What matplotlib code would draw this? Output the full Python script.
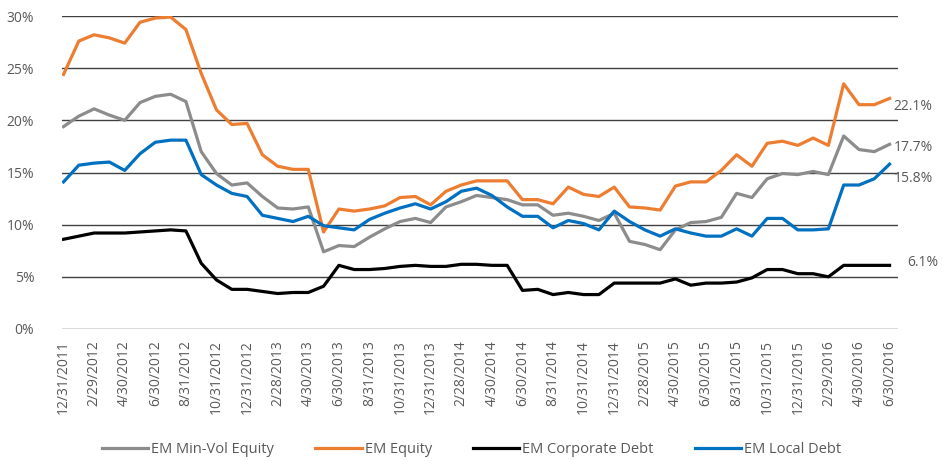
"""
EM asset class volatility chart (rolling, monthly), 12/2011 - 6/2016.
"""
import matplotlib
matplotlib.use("Agg")
import matplotlib.pyplot as plt
import pandas as pd

plt.rcParams["font.family"] = ["Open Sans", "DejaVu Sans"]

dates = pd.date_range("2011-12-31", "2016-06-30", freq="ME")
tick_labels = [f"{d.month}/{d.day}/{d.year}" for d in dates]

min_vol_equity = [
    19.4, 20.4, 21.1, 20.5, 20.0, 21.7, 22.3, 22.5, 21.8, 17.0,
    14.9, 13.8, 14.0, 12.7, 11.6, 11.5, 11.7, 7.4, 8.0, 7.9,
    8.8, 9.6, 10.3, 10.6, 10.2, 11.7, 12.2, 12.8, 12.6, 12.4,
    11.9, 11.9, 10.9, 11.1, 10.8, 10.4, 11.1, 8.4, 8.1, 7.6,
    9.5, 10.2, 10.3, 10.7, 13.0, 12.6, 14.4, 14.9, 14.8, 15.1,
    14.8, 18.5, 17.2, 17.0, 17.7,
]
em_equity = [
    24.4, 27.6, 28.2, 27.9, 27.4, 29.4, 29.8, 29.9, 28.7, 24.5,
    21.0, 19.6, 19.7, 16.7, 15.6, 15.3, 15.3, 9.3, 11.5, 11.3,
    11.5, 11.8, 12.6, 12.7, 11.9, 13.2, 13.8, 14.2, 14.2, 14.2,
    12.4, 12.4, 12.0, 13.6, 12.9, 12.7, 13.6, 11.7, 11.6, 11.4,
    13.7, 14.1, 14.1, 15.2, 16.7, 15.6, 17.8, 18.0, 17.6, 18.3,
    17.6, 23.5, 21.5, 21.5, 22.1,
]
em_corporate_debt = [
    8.6, 8.9, 9.2, 9.2, 9.2, 9.3, 9.4, 9.5, 9.4, 6.3,
    4.7, 3.8, 3.8, 3.6, 3.4, 3.5, 3.5, 4.1, 6.1, 5.7,
    5.7, 5.8, 6.0, 6.1, 6.0, 6.0, 6.2, 6.2, 6.1, 6.1,
    3.7, 3.8, 3.3, 3.5, 3.3, 3.3, 4.4, 4.4, 4.4, 4.4,
    4.8, 4.2, 4.4, 4.4, 4.5, 4.9, 5.7, 5.7, 5.3, 5.3,
    5.0, 6.1, 6.1, 6.1, 6.1,
]
em_local_debt = [
    14.1, 15.7, 15.9, 16.0, 15.2, 16.8, 17.9, 18.1, 18.1, 14.8,
    13.8, 13.0, 12.7, 10.9, 10.6, 10.3, 10.8, 9.9, 9.7, 9.5,
    10.5, 11.1, 11.6, 12.0, 11.5, 12.2, 13.2, 13.5, 12.8, 11.7,
    10.8, 10.8, 9.7, 10.4, 10.1, 9.5, 11.3, 10.3, 9.5, 8.9,
    9.6, 9.2, 8.9, 8.9, 9.6, 8.9, 10.6, 10.6, 9.5, 9.5,
    9.6, 13.8, 13.8, 14.4, 15.8,
]

series = [
    ("EM Min-Vol Equity", min_vol_equity, "#8c8c8c"),
    ("EM Equity", em_equity, "#ed7d31"),
    ("EM Corporate Debt", em_corporate_debt, "#000000"),
    ("EM Local Debt", em_local_debt, "#0070c0"),
]
end_labels = ["17.7%", "22.1%", "6.1%", "15.8%"]
end_offsets = [(3, -2), (3, -6), (13, 2), (3, -10)]

text_color = "#595959"
fig = plt.figure(figsize=(9.43, 4.61), dpi=100)
ax = fig.add_axes([62 / 943, 1 - 329 / 461, 836 / 943, 313 / 461])

x = list(range(len(dates)))
for (name, vals, color), lab, off in zip(series, end_labels, end_offsets):
    ax.plot(x, vals, color=color, linewidth=2.3, label=name, solid_joinstyle="round")
    ax.annotate(lab, (x[-1], vals[-1]), xytext=off, textcoords="offset points",
                ha="left", va="center", fontsize=10, color=text_color)

ax.set_ylim(0, 30)
ax.set_xlim(-0.1, len(dates) - 0.45)
ax.set_yticks(range(0, 31, 5))
ax.set_yticklabels([f"{v}%" for v in range(0, 31, 5)])
ax.set_xticks(x[::2])
ax.set_xticklabels(tick_labels[::2], rotation=90)
ax.tick_params(length=0, labelsize=10, labelcolor=text_color, pad=8)
ax.tick_params(axis="y", pad=20)
ax.grid(axis="y", color="#404040", linewidth=1.0)
ax.set_axisbelow(True)
for s in ax.spines.values():
    s.set_visible(False)

fig.legend(loc="lower center", bbox_to_anchor=(0.5, -0.02), ncol=4, frameon=False,
           fontsize=10.5, labelcolor=text_color, handlelength=3.2, columnspacing=2.8,
           handletextpad=0.2)
fig.savefig("out.png", dpi=100)
